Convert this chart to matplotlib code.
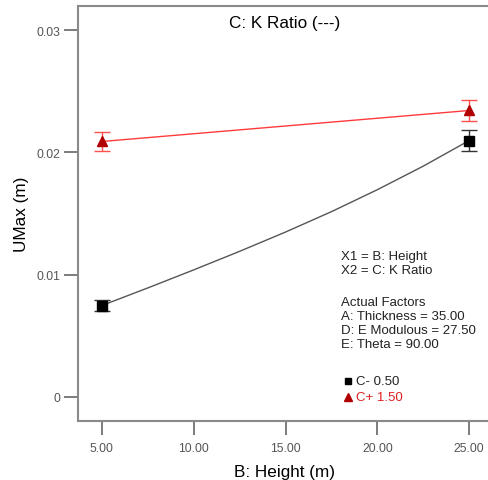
import matplotlib.pyplot as plt

plt.rcParams['font.family'] = ['Liberation Sans', 'DejaVu Sans']

# data
height = [5.0, 25.0]
low_pts = [0.00746, 0.02098]
low_err = [0.00045, 0.00085]
high_pts = [0.02090, 0.02344]
high_err = [0.00080, 0.00085]

# fitted curve for C- 0.50
curve_x = [5.0, 7.5, 10.0, 12.5, 15.0, 17.5, 20.0, 22.5, 25.0]
curve_y = [0.00746, 0.0089, 0.01038, 0.0119, 0.01348, 0.01515, 0.01695, 0.01888, 0.02098]

xticks = [5, 10, 15, 20, 25]
xtick_labels = ['5.00', '10.00', '15.00', '20.00', '25.00']
yticks = [0, 0.01, 0.02, 0.03]
ytick_labels = ['0', '0.01', '0.02', '0.03']

fig = plt.figure(figsize=(4.89, 4.81), dpi=100)
ax = fig.add_axes([0.1595, 0.1227, 0.845, 0.8627])

ax.plot(curve_x, curve_y, color='#555555', lw=1.0)
ax.plot(height, high_pts, color='#ff3b3b', lw=1.0)

ax.errorbar(height, low_pts, yerr=low_err, fmt='none', ecolor='#333333',
            elinewidth=1.0, capsize=6, capthick=1.0)
ax.errorbar(height, high_pts, yerr=high_err, fmt='none', ecolor='#ff5050',
            elinewidth=1.0, capsize=6, capthick=1.0)
ax.plot(height, low_pts, 's', color='black', ms=6.5)
ax.plot(height, high_pts, '^', color='#b00000', ms=7)

ax.set_xlim(3.7, 26.2)
ax.set_ylim(-0.002, 0.032)
ax.set_xticks(xticks)
ax.set_xticklabels(xtick_labels)
ax.set_yticks(yticks)
ax.set_yticklabels(ytick_labels)

for s in ['left', 'bottom', 'top']:
    ax.spines[s].set_color('#8a8a8a')
    ax.spines[s].set_linewidth(1.5)
ax.spines['right'].set_visible(False)
ax.tick_params(direction='out', length=10, width=1.2, color='#666666',
               labelsize=8.8, labelcolor='#555555')
ax.tick_params(axis='y', pad=3)
ax.tick_params(axis='x', pad=5)

ax.set_xlabel('B: Height (m)', fontsize=12.3, labelpad=7)
ax.set_ylabel('UMax (m)', fontsize=12.3, labelpad=5)
ax.text(0.5, 0.96, 'C: K Ratio (---)', transform=ax.transAxes, ha='center',
        va='center', fontsize=12.3)

tx = 18.0
ax.text(tx, 0.0120, 'X1 = B: Height\nX2 = C: K Ratio', fontsize=9.5, va='top',
        linespacing=1.2, color='#222222')
ax.text(tx, 0.0082, 'Actual Factors\nA: Thickness = 35.00\nD: E Modulous = 27.50\nE: Theta = 90.00',
        fontsize=9.5, va='top', linespacing=1.2, color='#222222')
ax.plot([18.4], [0.0013], 's', color='black', ms=5)
ax.text(18.85, 0.0013, 'C- 0.50', fontsize=9.5, va='center', color='#222222')
ax.plot([18.4], [0.0000], '^', color='#b00000', ms=6)
ax.text(18.85, 0.0000, 'C+ 1.50', fontsize=9.5, va='center', color='#e02020')

fig.savefig('out.png', dpi=100)
